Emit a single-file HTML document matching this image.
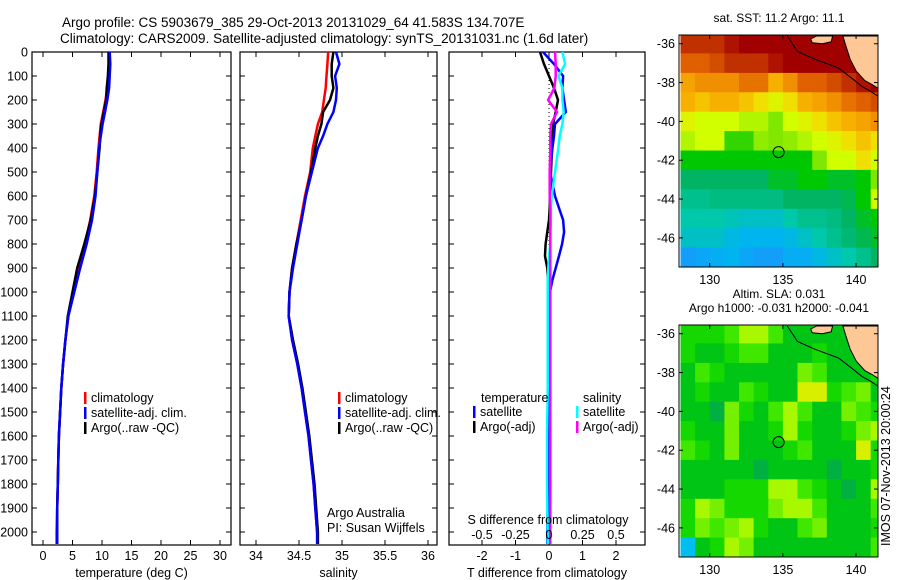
<!DOCTYPE html>
<html><head><meta charset="utf-8">
<style>
html,body{margin:0;padding:0;background:#fff;}
svg{display:block;font-family:"Liberation Sans",sans-serif;}
text{fill:#000;}
</style></head>
<body>
<svg id="fig" width="900" height="580" viewBox="0 0 900 580">
<text x="62" y="27" font-size="13.5">Argo profile: CS 5903679_385 29-Oct-2013 20131029_64 41.583S 134.707E</text>
<text x="60" y="43" font-size="13.5">Climatology: CARS2009. Satellite-adjusted climatology: synTS_20131031.nc (1.6d later)</text>
<g id="g1"></g>
<g id="g2"></g>
<g id="g3"></g>
<g id="m1"></g>
<g id="m2"></g>
<text transform="translate(890,546) rotate(-90)" font-size="12.5">IMOS 07-Nov-2013 20:00:24</text>
</svg>
<script>
const NS="http://www.w3.org/2000/svg";
// ---- data ----
const depths=[0,50,100,150,200,250,300,350,400,500,600,700,800,900,1000,1100,1200,1300,1400,1500,1600,1700,1800,1900,2000,2050];
const tClim=[11.3,11.2,11.1,10.9,10.6,10.2,9.8,9.6,9.4,9.1,8.7,8.0,7.1,6.1,5.2,4.3,3.8,3.4,3.1,2.9,2.7,2.6,2.5,2.4,2.3,2.3];
const tSat=[11.3,11.4,11.3,11.2,10.9,10.5,10.1,9.8,9.5,9.2,8.9,8.3,7.4,6.3,5.3,4.3,3.8,3.4,3.1,2.9,2.7,2.6,2.5,2.4,2.4,2.4];
const tArgo=[11.1,11.1,11.0,10.8,10.7,10.3,9.9,9.7,9.6,9.2,8.8,8.1,7.0,5.8,5.0,4.2,3.8,3.4,3.1,2.9,2.7,2.6,2.5,2.4,2.4,2.4];
const sClim=[34.84,34.83,34.82,34.81,34.79,34.77,34.72,34.69,34.66,34.63,34.57,34.52,34.47,34.42,34.39,34.38,34.42,34.48,34.53,34.57,34.61,34.64,34.67,34.69,34.71,34.72];
const sSat=[34.93,34.97,34.92,34.94,34.93,34.90,34.83,34.78,34.72,34.65,34.58,34.53,34.48,34.43,34.39,34.38,34.42,34.48,34.53,34.57,34.61,34.64,34.67,34.69,34.71,34.71];
const sArgo=[34.9,34.88,34.88,34.9,34.86,34.78,34.76,34.72,34.69,34.64,34.58,34.53,34.47,34.42,34.39,34.38,34.43,34.49,34.54,34.58,34.62,34.65,34.68,34.70,34.72,34.72];
const dDepths=[0,50,100,150,200,250,300,350,400,500,600,650,700,750,800,850,900,950,1000,1200,1400,1600,1800,2000,2050];
const dTsat=[-0.18,0.15,0.42,0.4,0.45,0.5,0.18,0.15,0.1,0.03,0.18,0.3,0.42,0.45,0.39,0.3,0.2,0.1,0.03,0,0,-0.03,-0.03,-0.05,-0.05];
const dTargo=[-0.27,-0.15,0.0,0.15,0.27,0.2,0.12,0.1,0.09,0.06,0.03,0.02,0.0,-0.05,-0.1,-0.12,-0.05,-0.03,-0.03,-0.03,0.0,0.0,-0.03,0,0];
const dSsat=[0.1,0.12,0.07,0.1,0.1,0.11,0.1,0.08,0.07,0.045,0.02,0.015,0.015,0.01,0.01,0.0,-0.005,-0.01,-0.01,-0.01,-0.01,-0.015,-0.015,-0.01,-0.01];
const dSargo=[0.045,0.05,0.05,0.04,-0.007,0.06,0.015,0.01,0.01,0.005,0.005,0.01,0.01,0.01,0.01,0.01,0.01,0.01,0.01,0.01,0.01,0.01,0.01,0.01,0.01];
const depthTicks=[0,100,200,300,400,500,600,700,800,900,1000,1100,1200,1300,1400,1500,1600,1700,1800,1900,2000];
const tTicks=[0,5,10,15,20,25,30];
const sTicks=[34,34.5,35,35.5,36];
const sTickLabels=["34","34.5","35","35.5","36"];
const dtTicks=[-2,-1,0,1,2];
const dsTicks=[-0.5,-0.25,0,0.25,0.5];
const dsTickLabels=["-0.5","-0.25","0","0.25","0.5"];
const sstGrid=[
[15.5,15.5,15.5,15.8,16,16,16,16,16,16,16,16,16,16],
[15,15,15.2,15.5,15.5,15.5,15.8,16,16,16,16,16,16,16],
[14.2,14.5,14.5,14.5,14.8,14.8,14,14.5,15,15,15.2,15.5,15.8,16],
[14,13.8,14,14,13.8,13.5,13.2,13.5,14,14.2,14.5,14.8,15,15.2],
[13.2,13,13,13,12.8,12.8,12.5,13,13.2,13.5,13.8,14,14.2,14.5],
[12.8,13,13,12.2,12.2,12.6,12.5,12.6,12.8,13,13.2,13.5,13.8,13.5],
[12,12,12,12,12,12,12,12,12,12.5,13,13,13.5,13],
[11.5,11.5,11.5,11.5,11.5,11.5,11.8,11.8,12,12,11.8,11.8,12,12.5],
[11.2,11.2,11.3,11.3,11.3,11.3,11.3,11.5,11.5,11.5,11.5,11.6,12,13],
[11,11,11,10.9,10.8,10.8,10.8,11,11.2,11.2,11.3,11.5,11.8,12],
[10.8,10.8,10.8,10.6,10.5,10.5,10.5,10.6,10.8,11,11.2,11.4,11.6,11.8],
[10.2,10.3,10.4,10.5,10.3,10.2,10.2,10.4,10.4,10.6,10.8,11,11.2,11.5]];
const slaGrid=[
[.5,.5,.5,.6,.8,.8,.6,.4,.4,.4,.4,.4,.4,.4],
[.5,.4,.4,.5,.6,.6,.4,.4,.4,.5,.4,.4,.4,.4],
[.4,.6,.5,.4,.4,.4,.4,.4,.7,.6,.4,.4,.4,.5],
[.4,.5,.4,.4,.6,.5,.4,.4,.9,.9,.5,.6,.7,.4],
[.4,.4,.3,.7,.5,.4,.6,.8,.6,.4,.4,.7,.6,.5],
[.5,.4,.4,.7,.4,.4,.5,.8,.5,.4,.4,.5,.7,.8],
[.6,.5,.4,.7,.4,.4,.4,.5,.6,.4,.4,.4,.9,.5],
[.4,.4,.4,.4,.4,.3,.4,.4,.4,.4,.3,.4,.4,.5],
[.4,.4,.4,.5,.5,.5,.8,.8,.6,.5,.4,.3,.4,.8],
[.5,.8,.7,.5,.5,.5,.7,.8,.8,.6,.4,.4,.4,.6],
[.5,.7,.6,.7,.8,.5,.4,.4,.6,.7,.4,.4,.4,.5],
[-.5,.4,.5,.8,.7,.4,.4,.4,.4,.4,.4,.4,.4,.6]];
const lonTicks=[130,135,140];
const latTicks=[-36,-38,-40,-42,-44,-46];
const argoPos=[134.707,-41.583];
const coastLon=[135.3,136.0,137.2,138.8,139.75,140.4,141.0,141.5];
const coastLat=[-35.6,-36.4,-36.8,-37.25,-37.8,-38.2,-38.45,-38.7];
const landLon=[139.1,139.3,139.6,140.0,140.6,141.1,141.5,141.5];
const landLat=[-35.6,-36.1,-36.8,-37.4,-37.9,-38.1,-38.3,-35.6];
const islandLon=[136.9,137.3,138.4,138.3,137.7,137.0];
const islandLat=[-35.75,-35.6,-35.6,-35.9,-36.0,-35.95];

function el(tag,attrs,parent){const e=document.createElementNS(NS,tag);for(const k in attrs)e.setAttribute(k,attrs[k]);parent.appendChild(e);return e;}
function txt(parent,x,y,s,anchor,size){const t=el('text',{x:x,y:y,'font-size':size||12.5,'text-anchor':anchor||'start'},parent);t.textContent=s;return t;}

const TOP=52, PXD=0.24, BOT=545;
const yD=d=>TOP+d*PXD;

function panel(g,x0,x1,xs,ticks,labels,xlabel,showY){
  el('rect',{x:x0,y:TOP,width:x1-x0,height:BOT-TOP,fill:'none',stroke:'#000','stroke-width':1.2},g);
  depthTicks.forEach(d=>{const y=yD(d);
    el('line',{x1:x0,y1:y,x2:x0+5,y2:y,stroke:'#000'},g);
    el('line',{x1:x1-5,y1:y,x2:x1,y2:y,stroke:'#000'},g);
    if(showY){const t=txt(g,28,y+4.5,String(d),'end',12.5);}
  });
  ticks.forEach((v,i)=>{const x=xs(v);
    el('line',{x1:x,y1:TOP,x2:x,y2:TOP+5,stroke:'#000'},g);
    el('line',{x1:x,y1:BOT-5,x2:x,y2:BOT,stroke:'#000'},g);
    const t=txt(g,x,560,labels[i],'middle',12.5);
    
    
  });
  const xl=txt(g,(x0+x1)/2,577,xlabel,'middle',12.5);
  
  
}
function line(g,xs,vals,dep,color,w,name){
  const pts=vals.map((v,i)=>xs(v).toFixed(1)+','+yD(dep[i]).toFixed(1)).join(' ');
  const p=el('polyline',{points:pts,fill:'none',stroke:color,'stroke-width':w||2.5},g);
  
  
}
function legend(g,x,y,items){
  items.forEach((it,i)=>{
    el('rect',{x:x,y:y+i*15-10,width:2.5,height:12,fill:it[1]},g);
    txt(g,x+7,y+i*15,it[0],'start',12.5);
  });
}
const g1=document.getElementById('g1');
const xT=v=>43+v*(177/30);
panel(g1,32,231,xT,tTicks,tTicks.map(String),'temperature (deg C)',true);
line(g1,xT,tClim,depths,'#f00',2.5,'series-climatology-temp');
line(g1,xT,tArgo,depths,'#000',2.5,'series-argo-temp');
line(g1,xT,tSat,depths,'#00f',2.5,'series-satellite-temp');
legend(g1,84,402,[['climatology','#f00'],['satellite-adj. clim.','#00f'],['Argo(..raw -QC)','#000']]);
const g2=document.getElementById('g2');
const xS=v=>256+(v-34)*86;
panel(g2,240,437,xS,sTicks,sTickLabels,'salinity',false);
line(g2,xS,sClim,depths,'#f00',2.5,'series-climatology-sal');
line(g2,xS,sArgo,depths,'#000',2.5,'series-argo-sal');
line(g2,xS,sSat,depths,'#00f',2.5,'series-satellite-sal');
legend(g2,338,402,[['climatology','#f00'],['satellite-adj. clim.','#00f'],['Argo(..raw -QC)','#000']]);
txt(g2,327,517,'Argo Australia','start',12.5);
txt(g2,327,532,'PI: Susan Wijffels','start',12.5);
const g3=document.getElementById('g3');
const xDT=v=>549+v*33.5, xDS=v=>549+v*134;
panel(g3,449,645,xDT,dtTicks,dtTicks.map(String),'T difference from climatology',false);
el('line',{x1:549,y1:TOP,x2:549,y2:BOT,stroke:'#000','stroke-dasharray':'1,3'},g3);
line(g3,xDT,dTargo,dDepths,'#000',2.5,'series-argo-tdiff');
line(g3,xDT,dTsat,dDepths,'#00f',2.5,'series-satellite-tdiff');
line(g3,xDS,dSsat,dDepths,'#0ff',2.5,'series-satellite-sdiff');
line(g3,xDS,dSargo,dDepths,'#f0f',2.5,'series-argo-sdiff');
txt(g3,481,402,'temperature','start',12.5);
txt(g3,583,402,'salinity','start',12.5);
legend(g3,473,416,[['satellite','#00f'],['Argo(-adj)','#000']]);
legend(g3,576,416,[['satellite','#0ff'],['Argo(-adj)','#f0f']]);
txt(g3,548,524,'S difference from climatology','middle',12.5);
dsTicks.forEach((v,i)=>{const t=txt(g3,xDS(v),539,dsTickLabels[i],'middle',12.5);
  
  });

function rgb(c){return 'rgb('+c.join(',')+')';}
function lerpColor(stops,v){
  if(v<=stops[0][0])return rgb(stops[0][1]);
  for(let i=1;i<stops.length;i++){if(v<=stops[i][0]){const a=stops[i-1],b=stops[i],f=(v-a[0])/(b[0]-a[0]);
    const ca=a[1],cb=b[1];return rgb(ca.map((c,j)=>Math.round(c+(cb[j]-c)*f)));}}
  return rgb(stops[stops.length-1][1]);
}
const sstStops=[[10,[30,144,255]],[10.5,[0,180,240]],[11,[0,200,170]],[11.5,[0,180,100]],[12,[0,200,0]],[12.5,[128,232,0]],[13,[210,255,0]],[13.5,[240,224,0]],[14,[248,176,0]],[14.5,[240,144,0]],[15,[224,96,0]],[15.5,[192,48,0]],[16,[160,0,0]]];
const slaStops=[[-0.5,[0,190,240]],[0.3,[0,176,64]],[0.45,[0,208,0]],[0.6,[64,232,0]],[0.8,[168,248,0]],[0.9,[216,240,0]]];
function drawMap(g,y0,y1,grid,stops,titles){
  const x0=679,x1=878;
  const LON0=127.9,LON1=141.5,LAT0=-35.55,LAT1=-47.5;
  const px=lon=>x0+(lon-LON0)/(LON1-LON0)*(x1-x0);
  const py=lat=>y0+(lat-LAT0)/(LAT1-LAT0)*(y1-y0);
  const cp='clip'+y0;
  const cl=el('clipPath',{id:cp},g);el('rect',{x:x0,y:y0,width:x1-x0,height:y1-y0},cl);
  const cg=el('g',{'clip-path':'url(#'+cp+')'},g);
  grid.forEach((row,r)=>row.forEach((v,c)=>{
    const lat=-35.5-r, lon=128+c;
    const cell=el('rect',{x:px(lon).toFixed(1),y:py(lat).toFixed(1),width:(px(lon+1)-px(lon)+0.6).toFixed(1),height:(py(lat-1)-py(lat)+0.6).toFixed(1),fill:lerpColor(stops,v)},cg);
    
    
  }));
  const poly=(lo,la)=>lo.map((v,i)=>px(v).toFixed(1)+','+py(la[i]).toFixed(1)).join(' ');
  el('polygon',{points:poly(landLon,landLat),fill:'#fdc896',stroke:'#000','stroke-width':1},cg);
  el('polygon',{points:poly(islandLon,islandLat),fill:'#fdc896',stroke:'#000','stroke-width':1},cg);
  el('polyline',{points:poly(coastLon,coastLat),fill:'none',stroke:'#000','stroke-width':1},cg);
  const c=el('circle',{cx:px(argoPos[0]),cy:py(argoPos[1]),r:5.5,fill:'none',stroke:'#000','stroke-width':1},g);
  
  
  el('rect',{x:x0,y:y0,width:x1-x0,height:y1-y0,fill:'none',stroke:'#000','stroke-width':1},g);
  lonTicks.forEach(v=>{const x=px(v);
    el('line',{x1:x,y1:y0,x2:x,y2:y0+4,stroke:'#000'},g);
    el('line',{x1:x,y1:y1-4,x2:x,y2:y1,stroke:'#000'},g);
    txt(g,x,y1+17,String(v),'middle',12.5);});
  latTicks.forEach(v=>{const y=py(v);
    el('line',{x1:x0,y1:y,x2:x0+4,y2:y,stroke:'#000'},g);
    el('line',{x1:x1-4,y1:y,x2:x1,y2:y,stroke:'#000'},g);
    txt(g,675,y+4.5,String(v),'end',12.5);});
  titles.forEach((t,i)=>txt(g,779,y0-13+i*14-(titles.length-1)*14,t,'middle',12));
}
drawMap(document.getElementById('m1'),35,267,sstGrid,sstStops,['sat. SST: 11.2  Argo: 11.1']);
drawMap(document.getElementById('m2'),325,557,slaGrid,slaStops,['Altim. SLA: 0.031','Argo h1000: -0.031 h2000: -0.041']);
</script>
</body></html>
